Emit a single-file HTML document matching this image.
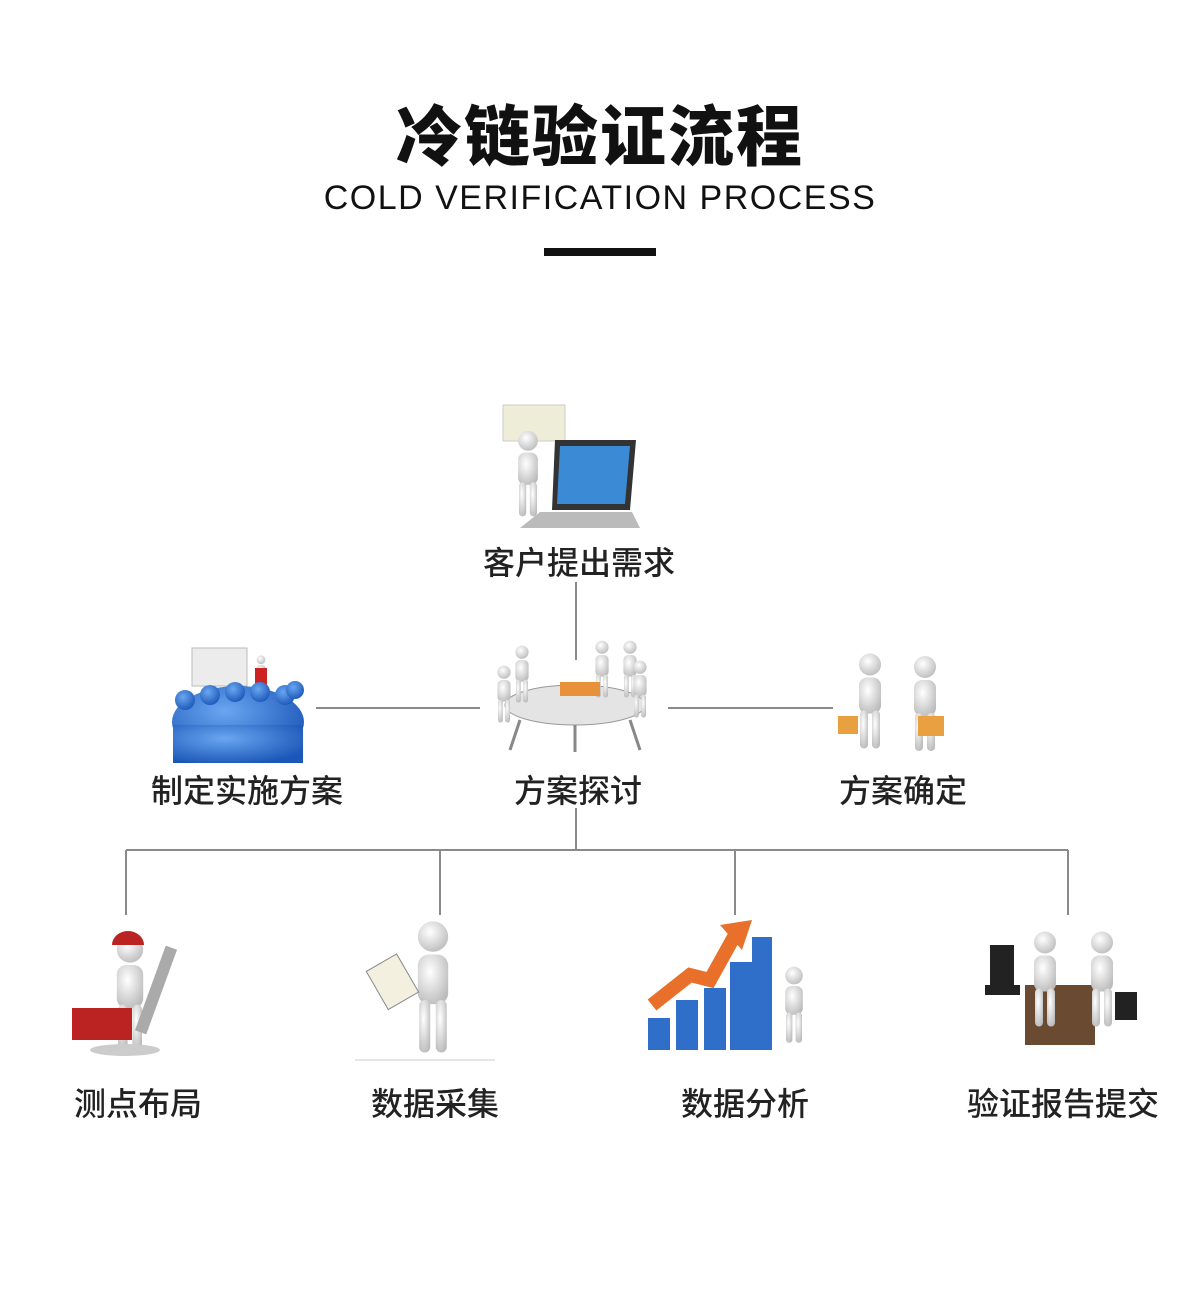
<!DOCTYPE html>
<html><head><meta charset="utf-8"><style>
html,body{margin:0;padding:0;background:#fff;}
body{width:1200px;height:1299px;position:relative;overflow:hidden;font-family:"Liberation Sans","Noto Sans CJK SC",sans-serif;color:#1a1a1a;}
.t{position:absolute;left:0;width:1200px;text-align:center;}
.lbl{position:absolute;font-size:32px;font-weight:500;text-align:center;width:300px;transform:translateX(-150px);color:#222;}
svg{position:absolute;left:0;top:0;}
</style></head><body>
<div class="t" style="top:84px;font-size:66px;font-weight:900;letter-spacing:2px;color:#111;">冷链验证流程</div>
<div class="t" style="top:179px;font-size:34px;letter-spacing:1.5px;color:#111;">COLD VERIFICATION PROCESS</div>
<div style="position:absolute;left:544px;top:248px;width:112px;height:8px;background:#111;"></div>

<svg width="1200" height="1299">
<defs>
<radialGradient id="g" cx="40%" cy="35%" r="70%"><stop offset="0" stop-color="#fff"/><stop offset="1" stop-color="#bcbcbc"/></radialGradient>
<radialGradient id="b" cx="40%" cy="35%" r="70%"><stop offset="0" stop-color="#6aa6f0"/><stop offset="1" stop-color="#1b57b8"/></radialGradient>
<symbol id="man" viewBox="0 0 40 100"><circle cx="20" cy="12" r="11" fill="url(#g)"/><rect x="9" y="25" width="22" height="36" rx="8" fill="url(#g)"/><rect x="10" y="58" width="8" height="38" rx="4" fill="url(#g)"/><rect x="22" y="58" width="8" height="38" rx="4" fill="url(#g)"/></symbol>
</defs>
<g stroke="#8a8a8a" stroke-width="2" fill="none">
<line x1="576" y1="582" x2="576" y2="660"/>
<line x1="316" y1="708" x2="480" y2="708"/>
<line x1="668" y1="708" x2="833" y2="708"/>
<line x1="576" y1="808" x2="576" y2="850"/>
<line x1="126" y1="850" x2="1068" y2="850"/>
<line x1="126" y1="850" x2="126" y2="915"/>
<line x1="440" y1="850" x2="440" y2="915"/>
<line x1="735" y1="850" x2="735" y2="915"/>
<line x1="1068" y1="850" x2="1068" y2="915"/>
</g>
<rect x="503" y="405" width="62" height="36" fill="#eeeed8" stroke="#ccc"/>
<use href="#man" x="508" y="430" width="40" height="90"/>
<polygon points="555,440 636,440 630,510 552,510" fill="#333"/>
<polygon points="560,446 630,446 625,504 557,504" fill="#3a8ad6"/>
<polygon points="540,512 632,512 640,528 520,528" fill="#bbb"/>
<rect x="192" y="648" width="55" height="38" fill="#ececec" stroke="#bbb"/>
<use href="#man" x="252" y="655" width="18" height="40"/>
<rect x="255" y="668" width="12" height="22" fill="#c22"/>
<g fill="url(#b)">
<ellipse cx="238" cy="722" rx="66" ry="36"/>
<circle cx="185" cy="700" r="10"/><circle cx="210" cy="695" r="10"/><circle cx="235" cy="692" r="10"/><circle cx="260" cy="692" r="10"/><circle cx="285" cy="695" r="10"/><circle cx="295" cy="690" r="9"/>
</g>
<rect x="173" y="725" width="130" height="38" fill="url(#b)"/>
<ellipse cx="575" cy="705" rx="70" ry="20" fill="#e4e4e4" stroke="#999"/>
<use href="#man" x="510" y="645" width="24" height="60"/>
<use href="#man" x="590" y="640" width="24" height="60"/>
<use href="#man" x="618" y="640" width="24" height="60"/>
<use href="#man" x="628" y="660" width="24" height="60"/>
<use href="#man" x="492" y="665" width="24" height="60"/>
<rect x="560" y="682" width="40" height="14" fill="#e8903a"/>
<path d="M520 720 L510 750 M630 720 L640 750 M575 725 L575 752" stroke="#888" stroke-width="3"/>
<use href="#man" x="850" y="645" width="40" height="115"/>
<use href="#man" x="905" y="650" width="40" height="110"/>
<rect x="838" y="716" width="20" height="18" fill="#e8a040"/>
<rect x="918" y="716" width="26" height="20" fill="#e8a040"/>
<use href="#man" x="105" y="935" width="50" height="120"/>
<path d="M112 945 a16 14 0 0 1 32 0 z" fill="#b22"/>
<rect x="72" y="1008" width="60" height="32" fill="#b22"/>
<rect x="150" y="945" width="12" height="90" fill="#aaa" transform="rotate(20 156 990)"/>
<ellipse cx="125" cy="1050" rx="35" ry="6" fill="#ccc"/>
<use href="#man" x="405" y="920" width="56" height="138"/>
<rect x="375" y="960" width="35" height="44" fill="#f4f0e0" stroke="#888" transform="rotate(-30 392 982)"/>
<line x1="355" y1="1060" x2="495" y2="1060" stroke="#ccc"/>
<g fill="#2f6fc9"><rect x="648" y="1018" width="22" height="32"/><rect x="676" y="1000" width="22" height="50"/><rect x="704" y="988" width="22" height="62"/><rect x="730" y="962" width="22" height="88"/><rect x="752" y="937" width="20" height="113"/></g>
<polyline points="652,1005 690,975 710,980 735,935" stroke="#e8702a" stroke-width="14" fill="none"/>
<polygon points="720,925 752,920 742,950" fill="#e8702a"/>
<use href="#man" x="778" y="962" width="32" height="88"/>
<rect x="990" y="945" width="24" height="40" fill="#222"/>
<rect x="985" y="985" width="35" height="10" fill="#222"/>
<rect x="1025" y="985" width="70" height="60" fill="#6b4a32"/>
<use href="#man" x="1025" y="918" width="40" height="125"/>
<use href="#man" x="1082" y="918" width="40" height="125"/>
<rect x="1115" y="992" width="22" height="28" fill="#222"/>
</svg>

<div class="lbl" style="left:579px;top:538px;">客户提出需求</div>
<div class="lbl" style="left:247px;top:766px;">制定实施方案</div>
<div class="lbl" style="left:578px;top:766px;">方案探讨</div>
<div class="lbl" style="left:903px;top:766px;">方案确定</div>
<div class="lbl" style="left:138px;top:1079px;">测点布局</div>
<div class="lbl" style="left:435px;top:1079px;">数据采集</div>
<div class="lbl" style="left:745px;top:1079px;">数据分析</div>
<div class="lbl" style="left:1063px;top:1079px;">验证报告提交</div>
</body></html>
